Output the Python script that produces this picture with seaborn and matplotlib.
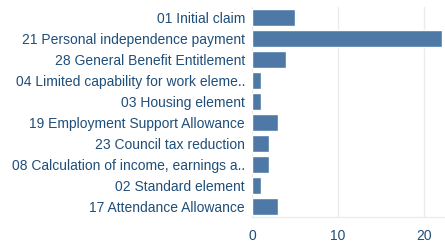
import numpy as np
import pandas as pd
import matplotlib
matplotlib.use("Agg")
import matplotlib.pyplot as plt
import seaborn as sns

categories = [
    "01 Initial claim",
    "21 Personal independence payment",
    "28 General Benefit Entitlement",
    "04 Limited capability for work eleme..",
    "03 Housing element",
    "19 Employment Support Allowance",
    "23 Council tax reduction",
    "08 Calculation of income, earnings a..",
    "02 Standard element",
    "17 Attendance Allowance",
]
counts = [5, 22, 4, 1, 1, 3, 2, 2, 1, 3]
ticks = [0, 10, 20]

df = pd.DataFrame({"category": categories, "count": counts})

sns.set_style("white")
plt.rcParams["font.family"] = ["Liberation Sans", "DejaVu Sans"]

text_color = "#1f4e79"
bar_color = "#4e79a7"
grid_color = "#ebebeb"

fig = plt.figure(figsize=(4.45, 2.42), dpi=100)
ax = fig.add_axes([252 / 445, 1 - 217 / 242, 1 - 252 / 445, 210 / 242])

sns.barplot(data=df, x="count", y="category", color=bar_color, saturation=1,
            width=0.79, ax=ax, zorder=3)

ax.set_xlim(0, 22.4)
ax.set_ylim(9.5, -0.5)
ax.set_xticks(ticks)
ax.set_xlabel("")
ax.set_ylabel("")
for t in ticks:
    ax.axvline(t, color=grid_color, lw=1, zorder=1)
for s in ["top", "right", "left"]:
    ax.spines[s].set_visible(False)
ax.spines["bottom"].set_color(grid_color)
ax.spines["bottom"].set_linewidth(1)
ax.tick_params(axis="both", length=0, labelsize=10, colors=text_color)
ax.tick_params(axis="y", pad=5)
ax.tick_params(axis="x", pad=8.5)

fig.savefig("out.png", dpi=100)
